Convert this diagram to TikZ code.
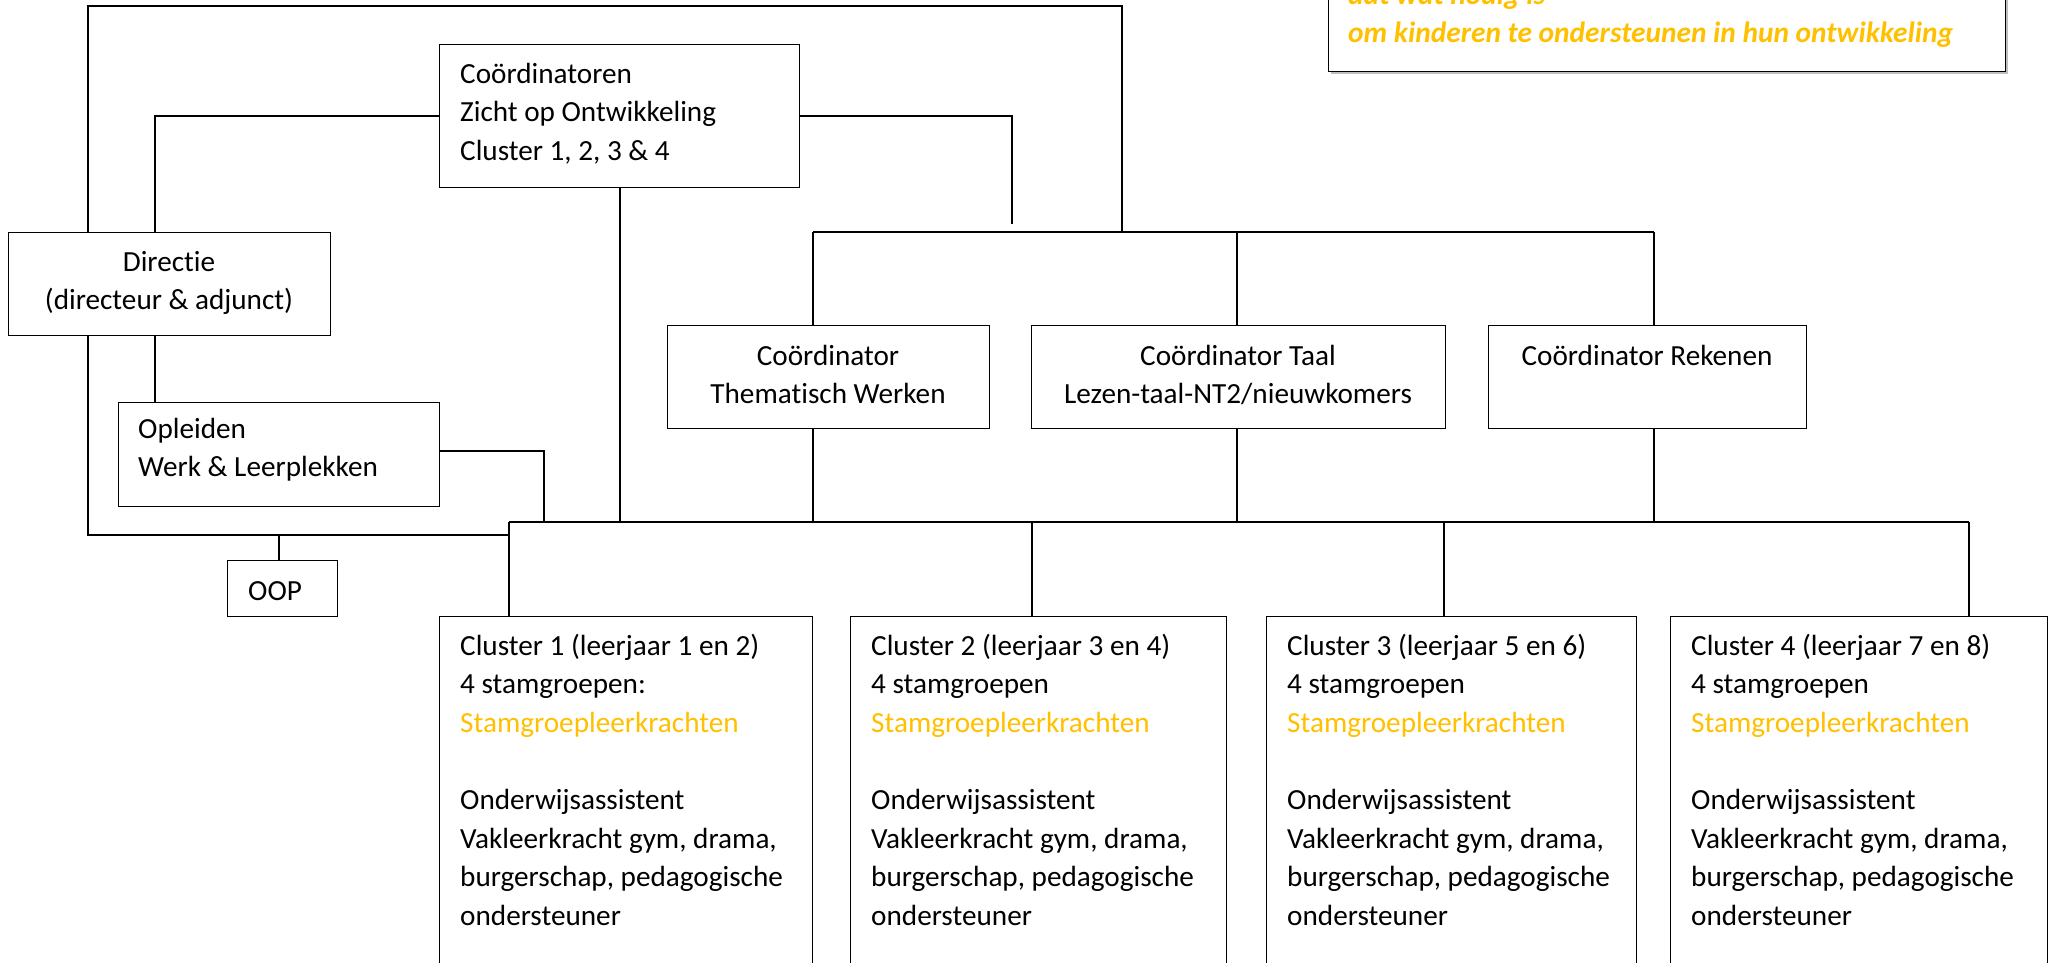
\documentclass[tikz,border=0pt]{standalone}
\usepackage{fontspec}
\setmainfont{Carlito}[Ligatures=NoCommon,Contextuals=NoAlternate]
\definecolor{orng}{HTML}{FFC000}
\begin{document}
\begin{tikzpicture}[x=1pt,y=-1pt,
  box/.style={draw, line width=1.4pt, rectangle, inner sep=0pt, anchor=north west, fill=white},
  txt/.style={inner sep=0pt, font=\fontsize{29.2}{38.6}\selectfont},
  lft/.style={txt, align=left, anchor=north west},
  ctr/.style={txt, align=center, anchor=north},
  conn/.style={line width=2.6pt, line join=miter}
]
\clip (0,0) rectangle (2053,963);
\fill[white] (0,0) rectangle (2053,963);

% named coordinates for connector positions
\coordinate (xL) at (88,0);
\coordinate (xD) at (155,0);
\coordinate (xO) at (279,0);
\coordinate (xC1) at (509,0);
\coordinate (xOp) at (544,0);
\coordinate (xCo) at (620,0);
\coordinate (xFree) at (1012,0);
\coordinate (xR) at (1122,0);
\coordinate (xT) at (813,0);
\coordinate (xTa) at (1237,0);
\coordinate (xRk) at (1654,0);
\coordinate (xC2) at (1032,0);
\coordinate (xC3) at (1444,0);
\coordinate (xC4) at (1969,0);
\coordinate (yTop) at (0,6);
\coordinate (yB1) at (0,232);
\coordinate (yB2) at (0,522);
\coordinate (yL) at (0,535);
\coordinate (yOp) at (0,451);
\coordinate (free) at (1012,224);

% connectors (drawn first, boxes on top)
\draw[conn] (xL |- yB1) -- (xL |- yTop) -- (xR |- yTop) -- (xR |- yB1);
\draw[conn] (xT |- yB1) -- (xRk |- yB1);
\draw[conn] (xL |- yB1) -- (xL |- yL) -- (xC1 |- yL);
\draw[conn] (xC1 |- yB2) -- (xC4 |- yB2);

% boxes
\node[box, minimum width=360pt, minimum height=143pt] (coord) at (439,44) {};
\node[box, minimum width=322pt, minimum height=103pt] (dir) at (8,232) {};
\node[box, minimum width=321pt, minimum height=104pt] (opl) at (118,402) {};
\node[box, minimum width=110pt, minimum height=56pt] (oop) at (227,560) {};
\node[box, minimum width=322pt, minimum height=103pt] (thema) at (667,325) {};
\node[box, minimum width=414pt, minimum height=103pt] (taal) at (1031,325) {};
\node[box, minimum width=318pt, minimum height=103pt] (reken) at (1488,325) {};
\node[box, minimum width=373pt, minimum height=400pt] (c1) at (439,616) {};
\node[box, minimum width=376pt, minimum height=400pt] (c2) at (850,616) {};
\node[box, minimum width=370pt, minimum height=400pt] (c3) at (1266,616) {};
\node[box, minimum width=377pt, minimum height=400pt] (c4) at (1670,616) {};
\fill[gray!50] (1331,-60) rectangle (2008,74);
\node[box, minimum width=677pt, minimum height=131pt] (note) at (1328,-60) {};

% connectors attached to boxes
\draw[conn] (coord.west) -- (xD |- coord.west) -- (xD |- dir.north);
\draw[conn] (coord.east) -- (xFree |- coord.east) -- (free);
\draw[conn] (xCo |- coord.south) -- (xCo |- yB2);
\draw[conn] (xD |- dir.south) -- (xD |- opl.north);
\draw[conn] (xO |- yL) -- (xO |- oop.north);
\draw[conn] (opl.east |- yOp) -- (xOp |- yOp) -- (xOp |- yB2);
\draw[conn] (xT |- yB1) -- (xT |- thema.north);
\draw[conn] (xTa |- yB1) -- (xTa |- taal.north);
\draw[conn] (xRk |- yB1) -- (xRk |- reken.north);
\draw[conn] (xT |- thema.south) -- (xT |- yB2);
\draw[conn] (xTa |- taal.south) -- (xTa |- yB2);
\draw[conn] (xRk |- reken.south) -- (xRk |- yB2);
\draw[conn] (xC1 |- yB2) -- (xC1 |- c1.north);
\draw[conn] (xC2 |- yB2) -- (xC2 |- c2.north);
\draw[conn] (xC3 |- yB2) -- (xC3 |- c3.north);
\draw[conn] (xC4 |- yB2) -- (xC4 |- c4.north);

% texts (each line starts with a strut: first baseline = node top + 27pt)
\node[lft] (coordT) at (460,56) {\strut Coördinatoren\\\strut Zicht op Ontwikkeling\\\strut Cluster 1, 2, 3 \& 4};
\node[ctr] (dirT) at (169,244) {\strut Directie\\\strut (directeur \& adjunct)};
\node[lft] (oplT) at (138,411) {\strut Opleiden\\\strut Werk \& Leerplekken};
\node[lft] (oopT) at (248,573) {\strut OOP};
\node[ctr] (themaT) at (828,338) {\strut Coördinator\\\strut Thematisch Werken};
\node[ctr] (taalT) at (1238,338) {\strut Coördinator Taal\\\strut Lezen-taal-NT2/nieuwkomers};
\node[ctr] (rekenT) at (1647,338) {\strut Coördinator Rekenen};
\node[lft] (c1T) at (460,628) {\strut Cluster 1 (leerjaar 1 en 2)\\\strut 4 stamgroepen:\\\strut\textcolor{orng}{Stamgroepleerkrachten}\\\strut\\\strut Onderwijsassistent\\\strut Vakleerkracht gym, drama,\\\strut burgerschap, pedagogische\\\strut ondersteuner};
\node[lft] (c2T) at (871,628) {\strut Cluster 2 (leerjaar 3 en 4)\\\strut 4 stamgroepen\\\strut\textcolor{orng}{Stamgroepleerkrachten}\\\strut\\\strut Onderwijsassistent\\\strut Vakleerkracht gym, drama,\\\strut burgerschap, pedagogische\\\strut ondersteuner};
\node[lft] (c3T) at (1287,628) {\strut Cluster 3 (leerjaar 5 en 6)\\\strut 4 stamgroepen\\\strut\textcolor{orng}{Stamgroepleerkrachten}\\\strut\\\strut Onderwijsassistent\\\strut Vakleerkracht gym, drama,\\\strut burgerschap, pedagogische\\\strut ondersteuner};
\node[lft] (c4T) at (1691,628) {\strut Cluster 4 (leerjaar 7 en 8)\\\strut 4 stamgroepen\\\strut\textcolor{orng}{Stamgroepleerkrachten}\\\strut\\\strut Onderwijsassistent\\\strut Vakleerkracht gym, drama,\\\strut burgerschap, pedagogische\\\strut ondersteuner};
\node[lft, text=orng, font=\fontsize{29.4}{38}\selectfont\bfseries\itshape] (noteT) at (1348,-22.6) {\strut dat wat nodig is\\\strut om kinderen te ondersteunen in hun ontwikkeling};
\end{tikzpicture}
\end{document}
